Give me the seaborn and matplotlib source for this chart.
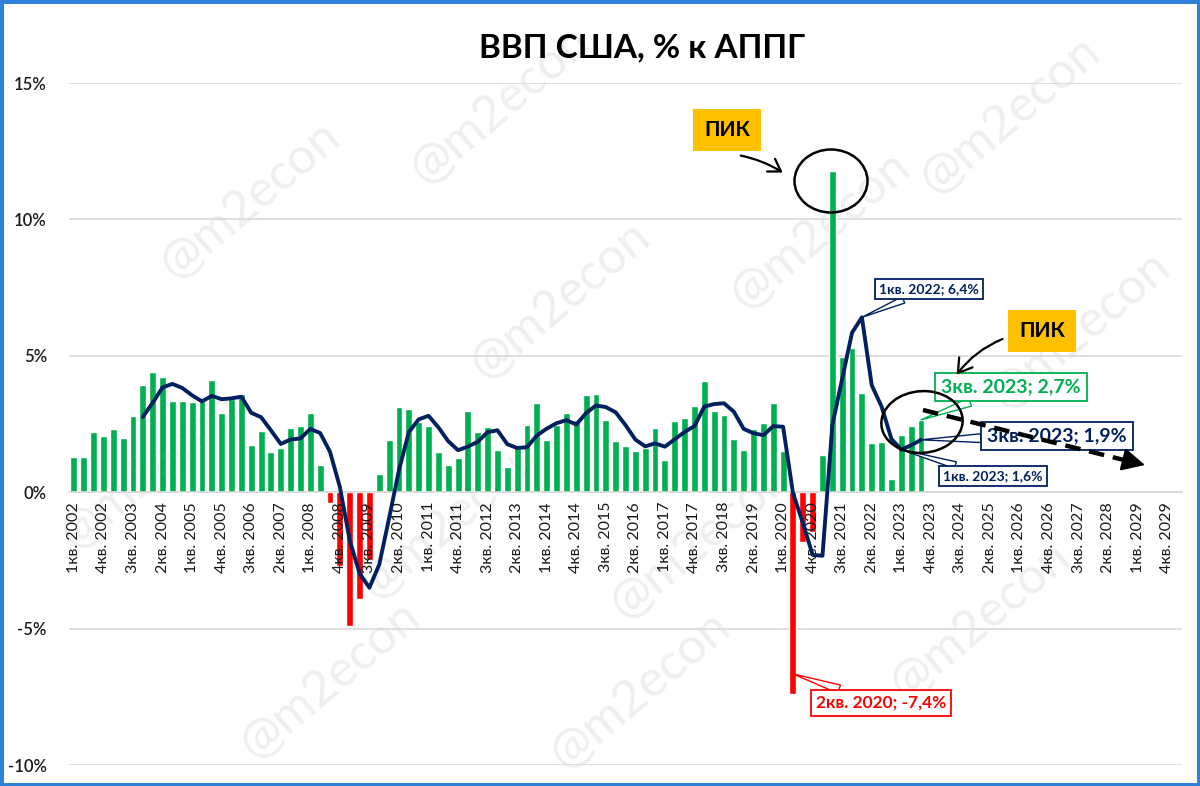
import matplotlib
matplotlib.use("Agg")
import matplotlib.pyplot as plt
import seaborn as sns
import pandas as pd
import numpy as np
from matplotlib.patches import Ellipse, Rectangle
from matplotlib.lines import Line2D

# ---------------- data ----------------
quarter_labels = [f"{q}кв. {y}" for y in range(2002, 2030) for q in range(1, 5)] + ["1кв. 2030"]

# US GDP, % y/y, 1кв.2002 .. 3кв.2023
gdp_yoy = [
    1.30, 1.30, 2.20, 2.07,   # 2002
    2.32, 1.99, 2.79, 3.94,   # 2003
    4.40, 4.21, 3.34, 3.34,   # 2004
    3.30, 3.35, 4.11, 2.89,   # 2005
    3.41, 3.60, 1.73, 2.26,   # 2006
    1.48, 1.62, 2.34, 2.44,   # 2007
    2.89, 0.99, -0.40, -2.72, # 2008
    -4.90, -3.90, -2.48, 0.67,  # 2009
    1.93, 3.13, 3.05, 2.56,   # 2010
    2.44, 1.46, 1.00, 1.24,   # 2011
    2.96, 2.20, 2.38, 1.55,   # 2012
    0.91, 1.65, 2.48, 3.26,   # 2013
    1.91, 2.48, 2.89, 2.65,   # 2014
    3.57, 3.60, 2.65, 1.88,   # 2015
    1.70, 1.50, 1.63, 2.34,   # 2016
    1.19, 2.60, 2.72, 3.17,   # 2017
    4.06, 2.96, 2.83, 1.95,   # 2018
    1.55, 2.30, 2.54, 3.27,   # 2019
    1.50, -7.40, -1.83, -1.46,  # 2020
    1.38, 11.76, 4.97, 5.27,  # 2021
    3.64, 1.80, 1.85, 0.49,   # 2022
    2.08, 2.44, 2.65,         # 2023
]

# 4-quarter average line, 4кв.2003 .. 3кв.2023
ma_start = "4кв. 2003"
ma4 = [
    2.76,                                   # 2003Q4
    3.28, 3.84, 3.97, 3.82,                 # 2004
    3.55, 3.33, 3.53, 3.41,                 # 2005
    3.44, 3.50, 2.91, 2.75,                 # 2006
    2.27, 1.77, 1.93, 1.97,                 # 2007
    2.32, 2.17, 1.48, 0.19,                 # 2008
    -1.76, -2.98, -3.50, -2.65,             # 2009
    -0.95, 0.81, 2.20, 2.67,                # 2010
    2.80, 2.38, 1.87, 1.54,                 # 2011
    1.67, 1.85, 2.20, 2.27,                 # 2012
    1.76, 1.62, 1.65, 2.08,                 # 2013
    2.33, 2.53, 2.64, 2.48,                 # 2014
    2.90, 3.18, 3.12, 2.93,                 # 2015
    2.46, 1.93, 1.68, 1.79,                 # 2016
    1.67, 1.94, 2.21, 2.42,                 # 2017
    3.14, 3.23, 3.26, 2.95,                 # 2018
    2.32, 2.16, 2.09, 2.42,                 # 2019
    2.40, -0.02, -1.12, -2.30,              # 2020
    -2.33, 2.46, 4.16, 5.85,                # 2021
    6.41, 3.92, 3.14, 1.95,                 # 2022
    1.56, 1.72, 1.92,                       # 2023
]

y_ticks = [-10, -5, 0, 5, 10, 15]
y_tick_labels = ["-10%", "-5%", "0%", "5%", "10%", "15%"]

# ---------------- style ----------------
sns.set_theme(style="white")
plt.rcParams['font.family'] = ['Lato', 'DejaVu Sans']

GREEN = "#00b050"
RED = "#ff0000"
NAVY = "#002060"
GRID = "#d9d9d9"

W, H = 1200, 786
fig = plt.figure(figsize=(W / 100, H / 100), dpi=100)
fig.patch.set_facecolor("white")
ax = fig.add_axes([69 / W, 21 / H, (1182 - 69) / W, (765 - 83) / H])
ax.set_facecolor("none")
ax.set_zorder(1)


def fp(x, y):
    """image pixel (from top-left) -> figure pixels (from bottom-left)"""
    return (x, H - y)


# faint watermarks (behind the chart)
wm_pos = [(500, 105), (1010, 115), (250, 200), (560, 300), (820, 230),
          (1080, 330), (150, 470), (450, 520), (700, 540), (980, 620),
          (330, 680), (640, 690)]
for (wx, wy) in wm_pos:
    fig.text(wx / W, 1 - wy / H, "@m2econ", fontsize=36, color="#efefef",
             rotation=40, ha="center", va="center", zorder=-1)

# ---------------- gridlines (behind bars) ----------------
for yt in y_ticks:
    ax.axhline(yt, color=GRID, lw=1.2, zorder=0.5)

# ---------------- bars ----------------
df = pd.DataFrame({"quarter": quarter_labels[:len(gdp_yoy)], "yoy": gdp_yoy})
df["sign"] = np.where(df["yoy"] >= 0, "pos", "neg")
sns.barplot(data=df, x="quarter", y="yoy", hue="sign", order=quarter_labels,
            palette={"pos": GREEN, "neg": RED}, dodge=False, width=0.7,
            saturation=1, legend=False, ax=ax, zorder=2)

# ---------------- line ----------------
i0 = quarter_labels.index(ma_start)
ma_x = list(range(i0, i0 + len(ma4)))
sns.lineplot(x=ma_x, y=ma4, color=NAVY, lw=2.8, ax=ax, zorder=4)

# ---------------- axes ----------------
for s in ["top", "right", "left"]:
    ax.spines[s].set_visible(False)
ax.spines["bottom"].set_position(("data", 0))
ax.spines["bottom"].set_color(GRID)
ax.spines["bottom"].set_linewidth(1.2)

ax.set_xlim(-0.5, len(quarter_labels) - 0.5)
ax.set_ylim(-10, 15)
ax.set_yticks(y_ticks)
ax.set_yticklabels(y_tick_labels)
ax.set_xticks(range(0, len(quarter_labels), 3))
ax.set_xticklabels(quarter_labels[::3])
ax.tick_params(axis="both", length=0)
ax.tick_params(axis="y", pad=16, labelsize=12, labelcolor="#1a1a1a")
ax.tick_params(axis="x", pad=7, labelsize=11.5, labelcolor="#1a1a1a", labelrotation=90)
for lab in ax.get_yticklabels():
    lab.set_fontweight("semibold")
ax.set_xlabel("")
ax.set_ylabel("")
ax.grid(False)
ax.set_axisbelow(False)   # tick labels drawn above the bars, below the line

# ---------------- title ----------------
fig.text(642 / W, 1 - 48 / H, "ВВП США, % к АППГ", ha="center", va="center",
         fontsize=24, fontweight="bold", color="black")

# ---------------- callouts ----------------
def callout(text, idx, val, box_xy, color, size, bold, tw=0.5):
    ax.annotate(text, xy=(idx, val), xycoords="data",
                xytext=fp(*box_xy), textcoords="figure pixels",
                ha="center", va="center", fontsize=size, color=color,
                fontweight="bold" if bold else "normal",
                bbox=dict(boxstyle="square,pad=0.3", fc="white", ec=color, lw=1.3),
                arrowprops=dict(arrowstyle=f"wedge,tail_width={tw}", fc="white",
                                ec=color, lw=1.0, shrinkA=0, shrinkB=0),
                zorder=6)

i22 = quarter_labels.index("1кв. 2022")
i23 = quarter_labels.index("1кв. 2023")
i23q3 = quarter_labels.index("3кв. 2023")
i20 = quarter_labels.index("2кв. 2020")

callout("1кв. 2022; 6,4%", i22, ma4[i22 - i0], (929, 289), NAVY, 10, True)
callout("3кв. 2023; 2,7%", i23q3, gdp_yoy[i23q3], (1011, 387), GREEN, 14, True, 0.45)
callout("3кв. 2023; 1,9%", i23q3, ma4[i23q3 - i0], (1057, 436), NAVY, 14, True, 0.45)
callout("1кв. 2023; 1,6%", i23, ma4[i23 - i0], (993, 476), NAVY, 10, True)
callout("2кв. 2020; -7,4%", i20, gdp_yoy[i20] * 0.9, (881, 703), RED, 12.5, True)

# ---------------- hand-drawn marks ----------------
for (cx, cy, ew, eh, ang) in [(831, 181, 73, 63, 0), (922, 422, 81, 62, -8)]:
    fig.add_artist(Ellipse((cx / W, 1 - cy / H), ew / W, eh / H, angle=ang,
                           transform=fig.transFigure, fill=False, ec="black",
                           lw=1.8, zorder=7))

for (bx, by) in [(727, 130), (1042, 331)]:
    fig.text(bx / W, 1 - by / H, "ПИК", ha="center", va="center", fontsize=15,
             fontweight="bold", color="black", zorder=8,
             bbox=dict(boxstyle="square,pad=0.55", fc="#ffc000", ec="none"))

ax.annotate("", xy=fp(785, 174), xycoords="figure pixels",
            xytext=fp(738, 155), textcoords="figure pixels",
            arrowprops=dict(arrowstyle="->,head_length=0.7,head_width=0.45",
                            color="black", lw=1.6,
                            connectionstyle="arc3,rad=-0.1"), zorder=8)
ax.annotate("", xy=fp(955, 377), xycoords="figure pixels",
            xytext=fp(1005, 338), textcoords="figure pixels",
            arrowprops=dict(arrowstyle="->,head_length=0.8,head_width=0.5",
                            color="black", lw=1.6,
                            connectionstyle="arc3,rad=0.15"), zorder=8)

# dashed trend arrow
x1, y1 = fp(923, 410)
x2, y2 = fp(1128, 461)
fig.add_artist(Line2D([x1 / W, x2 / W], [y1 / H, y2 / H], transform=fig.transFigure,
                      color="black", lw=3.2, ls=(0, (3.5, 2)), zorder=8))
ax.annotate("", xy=fp(1145, 465), xycoords="figure pixels",
            xytext=fp(1125, 460), textcoords="figure pixels",
            arrowprops=dict(arrowstyle="-|>,head_length=1.2,head_width=0.6",
                            color="black", lw=1.5, shrinkA=0, shrinkB=0), zorder=8)

# blue frame
fig.add_artist(Rectangle((0, 0), 1, 1, transform=fig.transFigure, fill=False,
                         ec="#2f80d8", lw=5, zorder=10))

fig.savefig("out.png", dpi=100)
